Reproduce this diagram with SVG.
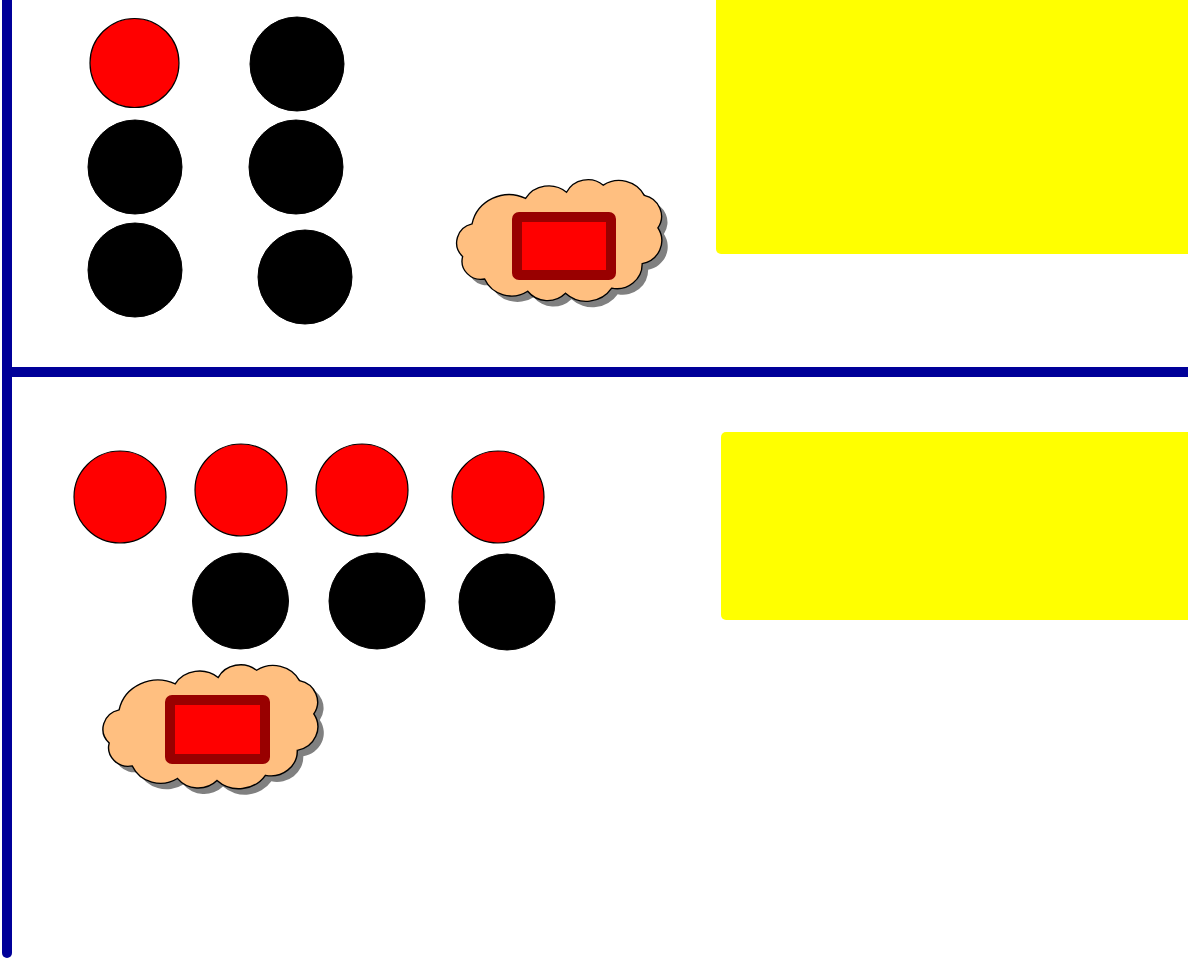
<svg xmlns="http://www.w3.org/2000/svg" xmlns:xlink="http://www.w3.org/1999/xlink" width="1191" height="965" viewBox="0 0 1191 965">
<style>
.red{fill:#ff0000;stroke:#000;stroke-width:1.2}
.blk{fill:#000;stroke:#000;stroke-width:1}
.yel{fill:#ffff00}
.div{stroke:#000099;stroke-width:10;stroke-linecap:round;fill:none}
.cloud{fill:#ffbf80;stroke:#000;stroke-width:1.3}
.shadow{fill:#808080;stroke:none}
.inner{fill:#ff0000;stroke:#990000;stroke-width:10;stroke-linejoin:round}
</style>
<defs>
<path id="cloudPath" d="M21,45 A36,36 0 0 1 72,20 A26,26 0 0 1 111,14 A23,23 0 0 1 146,7 A27,27 0 0 1 185,17 A21,21 0 0 1 198,49 A23,23 0 0 1 183,84 A24,24 0 0 1 154,108 A29,29 0 0 1 110,113 A24,24 0 0 1 74,111 A28,28 0 0 1 33,99 A18,18 0 0 1 12,77 A19,19 0 0 1 21,45 Z"/>
</defs>
<rect width="1191" height="965" fill="#fff"/>
<g id="backgrounds">
<rect id="panel-top" class="yel" x="716" y="-6" width="480" height="260" rx="5"/>
<rect id="panel-bottom" class="yel" x="721" y="432" width="475" height="188" rx="5"/>
<rect x="1188" y="0" width="3" height="965" fill="#fff"/>
</g>
<g id="dividers">
<line class="div" x1="7" y1="-10" x2="7" y2="953"/>
<line x1="7" y1="372" x2="1188" y2="372" stroke="#000099" stroke-width="10"/>
</g>
<g id="top-circles">
<circle id="t1" class="red" cx="134.5" cy="63" r="44.5"/>
<circle id="t2" class="blk" cx="297" cy="64" r="47"/>
<circle id="t3" class="blk" cx="135" cy="167" r="47"/>
<circle id="t4" class="blk" cx="296" cy="167" r="47"/>
<circle id="t5" class="blk" cx="135" cy="270" r="47"/>
<circle id="t6" class="blk" cx="305" cy="277" r="47"/>
</g>
<g id="bottom-circles">
<circle id="b1" class="red" cx="120" cy="497" r="46"/>
<circle id="b2" class="red" cx="241" cy="490" r="46"/>
<circle id="b3" class="red" cx="362" cy="490" r="46"/>
<circle id="b4" class="red" cx="498" cy="497" r="46"/>
<circle id="b5" class="blk" cx="240.5" cy="601" r="48"/>
<circle id="b6" class="blk" cx="377" cy="601" r="48"/>
<circle id="b7" class="blk" cx="507" cy="602" r="48"/>
</g>
<g id="cloud-top">
<use xlink:href="#cloudPath" href="#cloudPath" class="shadow" transform="translate(456,184) scale(1.05,1.02)"/>
<use xlink:href="#cloudPath" href="#cloudPath" class="cloud" transform="translate(450,178) scale(1.05,1.02)"/>
<rect class="inner" x="517" y="217" width="94" height="58" rx="2"/>
</g>
<g id="cloud-bottom">
<use xlink:href="#cloudPath" href="#cloudPath" class="shadow" transform="translate(102,669) scale(1.1,1.04)"/>
<use xlink:href="#cloudPath" href="#cloudPath" class="cloud" transform="translate(96,663) scale(1.1,1.04)"/>
<rect class="inner" x="170" y="700" width="95" height="59" rx="2"/>
</g>
</svg>
